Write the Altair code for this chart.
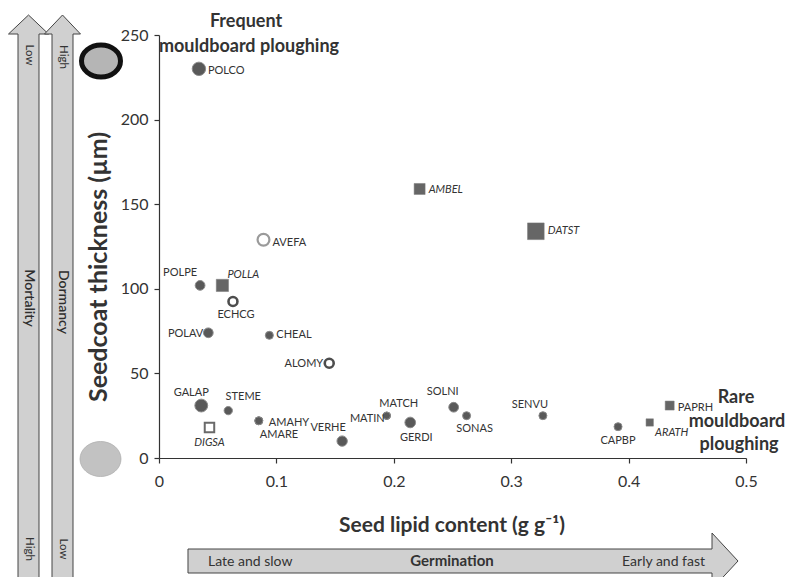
import altair as alt
import pandas as pd

# ---------------- data ----------------
species = ["POLCO", "POLPE", "POLLA", "ECHCG", "AVEFA", "POLAV", "CHEAL", "ALOMY",
           "AMBEL", "DATST", "GALAP", "STEME", "DIGSA", "AMAHY", "AMARE", "VERHE",
           "MATIN", "MATCH", "GERDI", "SOLNI", "SONAS", "SENVU", "CAPBP", "ARATH", "PAPRH"]
lipid = [0.034, 0.035, 0.054, 0.063, 0.089, 0.042, 0.094, 0.145,
         0.222, 0.321, 0.036, 0.059, 0.043, 0.085, 0.085, 0.156,
         0.194, 0.194, 0.214, 0.251, 0.262, 0.327, 0.391, 0.418, 0.435]
thickness = [230, 102, 102, 92.5, 129, 74, 72.5, 56,
             159, 134, 31, 28, 18, 22, 22, 10,
             25, 25, 21, 30, 25, 25, 18.5, 21, 31]
marker_area = [180, 95, 150, 80, 140, 95, 64, 80,
               121, 278, 165, 69, 90, 64, 64, 107,
               55, 55, 113, 95, 64, 64, 64, 54, 81]
marker_kind = ["circle", "circle", "square", "open_dark", "open_light", "circle", "circle", "open_dark",
               "square", "square", "circle", "circle", "open_square", "circle", "circle", "circle",
               "circle", "circle", "circle", "circle", "circle", "circle", "circle", "square", "square"]

x_ticks = [0, 0.1, 0.2, 0.3, 0.4, 0.5]
y_ticks = [0, 50, 100, 150, 200, 250]

df = pd.DataFrame({"species": species, "lipid": lipid, "thickness": thickness,
                   "area": marker_area, "kind": marker_kind})

# ---------------- layout ----------------
W, H = 587, 423
PAD_L, PAD_T = 151, 27
TOT_W, TOT_H = 779, 569
OX, OY = 159, 35  # page coordinates of plot origin

def gx(px):
    return px - OX

def gy(py):
    return py - OY

FONT = "Lato"
TXT = "#333333"

x_enc = alt.X("lipid:Q", scale=alt.Scale(domain=[0, 0.5], nice=False, zero=True),
              axis=alt.Axis(values=x_ticks, format="~g", title=None, grid=False,
                            labelPadding=10, labelFlush=False))
y_enc = alt.Y("thickness:Q", scale=alt.Scale(domain=[0, 250], nice=False, zero=True),
              axis=alt.Axis(values=y_ticks, title=None, grid=False, labelPadding=6,
                            labelFlush=False))
size_enc = alt.Size("area:Q", scale=None, legend=None)

base = alt.Chart(df)
one = alt.Chart(pd.DataFrame({"a": [0]}))

layers = []

# ---------------- decorative arrows ----------------
S = 300.0

def poly_path(pts):
    return "M" + " L".join(f"{x / S:.5f},{y / S:.5f}" for x, y in pts) + " Z"

def v_arrow(cx, tip_y, base_y, head_hw, body_hw, cy):
    pts = [(0, tip_y - cy), (head_hw, base_y - cy), (body_hw, base_y - cy), (body_hw, 620 - cy),
           (-body_hw, 620 - cy), (-body_hw, base_y - cy), (-head_hw, base_y - cy)]
    return one.mark_point(shape=poly_path(pts), filled=True, fill="#d0d0d0", stroke="#444444",
                          strokeWidth=1, opacity=1).encode(
        x=alt.value(gx(cx)), y=alt.value(gy(cy)), size=alt.value((2 * S) ** 2))

layers.append(v_arrow(28.5, 15, 34, 20, 10.5, 310))
layers.append(v_arrow(62.5, 15, 34, 18, 10.5, 310))

# horizontal arrow (germination)
hcx, hcy = 463, 561
hpts = [(188 - hcx, -12), (712 - hcx, -12), (712 - hcx, -28), (738 - hcx, 0),
        (712 - hcx, 28), (712 - hcx, 12), (188 - hcx, 12)]
layers.append(one.mark_point(shape=poly_path(hpts), filled=True, fill="#d0d0d0", stroke="#444444",
                             strokeWidth=1, opacity=1).encode(
    x=alt.value(gx(hcx)), y=alt.value(gy(hcy)), size=alt.value((2 * S) ** 2)))

# ellipses (thick seedcoat / thin seedcoat)
def ellipse_path(rx, ry, s):
    k = 0.5523
    a, b = rx / s, ry / s
    return (f"M {-a},0 C {-a},{-b * k} {-a * k},{-b} 0,{-b} "
            f"C {a * k},{-b} {a},{-b * k} {a},0 "
            f"C {a},{b * k} {a * k},{b} 0,{b} "
            f"C {-a * k},{b} {-a},{b * k} {-a},0 Z")

layers.append(one.mark_point(shape=ellipse_path(19.5, 16, 20), filled=True, fill="#b5b5b5",
                             stroke="#111111", strokeWidth=5, opacity=1).encode(
    x=alt.value(gx(101)), y=alt.value(gy(61)), size=alt.value(1600)))
layers.append(one.mark_point(shape=ellipse_path(20.5, 17.5, 20), filled=True, fill="#c2c2c2",
                             stroke="#b0b0b0", strokeWidth=0.8, opacity=1).encode(
    x=alt.value(gx(100.5)), y=alt.value(gy(459)), size=alt.value(1600)))

# ---------------- free texts ----------------
def txt(text, px, py, size, weight="normal", align="center", angle=0, baseline="alphabetic",
        style="normal", color=TXT):
    return one.mark_text(text=text, font=FONT, fontSize=size, fontWeight=weight, align=align,
                         angle=angle, baseline=baseline, fontStyle=style, color=color).encode(
        x=alt.value(gx(px)), y=alt.value(gy(py)))

layers += [
    txt("Low", 28.5, 55, 11.5, angle=90, baseline="middle"),
    txt("High", 62.5, 57, 11.5, angle=90, baseline="middle"),
    txt("Mortality", 28.5, 298, 14, weight=600, angle=90, baseline="middle", color="#2e2e2e"),
    txt("Dormancy", 62.5, 302, 14, weight=600, angle=90, baseline="middle", color="#2e2e2e"),
    txt("High", 28.5, 549, 11.5, angle=90, baseline="middle"),
    txt("Low", 62.5, 549, 11.5, angle=90, baseline="middle"),
    txt("Seedcoat thickness (µm)", 99, 267, 25, weight="bold", angle=270, baseline="middle"),
    txt("Seed lipid content (g g⁻¹)", 452, 532, 21, weight="bold"),
    txt("Late and slow", 208, 566, 14, align="left"),
    txt("Germination", 452, 566, 15, weight="bold"),
    txt("Early and fast", 705, 566, 14, align="right"),
    txt("Frequent", 246, 27, 18, weight="bold"),
    txt("mouldboard ploughing", 249, 52, 18, weight="bold"),
    txt("Rare", 736, 403, 18, weight="bold"),
    txt("mouldboard", 737, 427, 18, weight="bold"),
    txt("ploughing", 739, 450, 18, weight="bold"),
]

# ---------------- data marks ----------------
def kind_layer(kind, **mark):
    return base.transform_filter(alt.datum.kind == kind).mark_point(opacity=1, **mark).encode(
        x=x_enc, y=y_enc, size=size_enc)

layers += [
    kind_layer("circle", shape="circle", filled=True, fill="#595959", stroke="#8a8a8a", strokeWidth=1),
    kind_layer("square", shape="square", filled=True, fill="#666666", stroke="#7a7a7a", strokeWidth=0.5),
    kind_layer("open_dark", shape="circle", filled=False, fill="white", stroke="#4d4d4d", strokeWidth=2.6),
    kind_layer("open_light", shape="circle", filled=False, fill="white", stroke="#9a9a9a", strokeWidth=2.2),
    kind_layer("open_square", shape="square", filled=False, fill="white", stroke="#6a6a6a", strokeWidth=2),
]

# ---------------- point labels (placement styling) ----------------
label_place = {
    "POLCO": ("left", 9, 2), "POLPE": ("center", -20, -12), "POLLA": ("left", 5, -10),
    "ECHCG": ("center", 3, 14), "AVEFA": ("left", 9, 3), "POLAV": ("right", -5, 1),
    "CHEAL": ("left", 7, 0), "ALOMY": ("right", -6, 1), "AMBEL": ("left", 9, 1),
    "DATST": ("left", 12, 0), "GALAP": ("center", -10, -13), "STEME": ("center", 15, -14),
    "DIGSA": ("center", 0, 15), "AMAHY": ("left", 10, 2), "AMARE": ("left", 1, 14),
    "VERHE": ("center", -14, -13), "MATIN": ("right", -2, 3), "MATCH": ("center", 12, -12),
    "GERDI": ("center", 6, 16), "SOLNI": ("center", -11, -15), "SONAS": ("center", 8, 13),
    "SENVU": ("center", -13, -11), "CAPBP": ("center", 0, 14), "ARATH": ("center", 22, 11),
    "PAPRH": ("left", 8, 2),
}
italic = {"POLLA", "AMBEL", "DATST", "DIGSA", "ARATH"}

for sp in species:
    al, dx, dy = label_place[sp]
    layers.append(base.transform_filter(alt.datum.species == sp).mark_text(
        align=al, dx=dx, dy=dy, baseline="middle", font=FONT, fontSize=11, color=TXT,
        fontStyle="italic" if sp in italic else "normal").encode(
        x=x_enc, y=y_enc, text="species:N"))

chart = alt.layer(*layers).properties(
    width=W, height=H,
    autosize=alt.AutoSizeParams(type="none"),
    padding={"left": PAD_L, "top": PAD_T, "right": TOT_W - PAD_L - W, "bottom": TOT_H - PAD_T - H},
).configure_view(stroke=None).configure_axis(
    domainColor="#333333", tickColor="#333333", tickSize=5, domainWidth=1.2, tickWidth=1.2,
    labelFont=FONT, labelFontSize=16, labelColor=TXT,
)

chart.save("out.html", embed_options={"renderer": "svg", "actions": False})
